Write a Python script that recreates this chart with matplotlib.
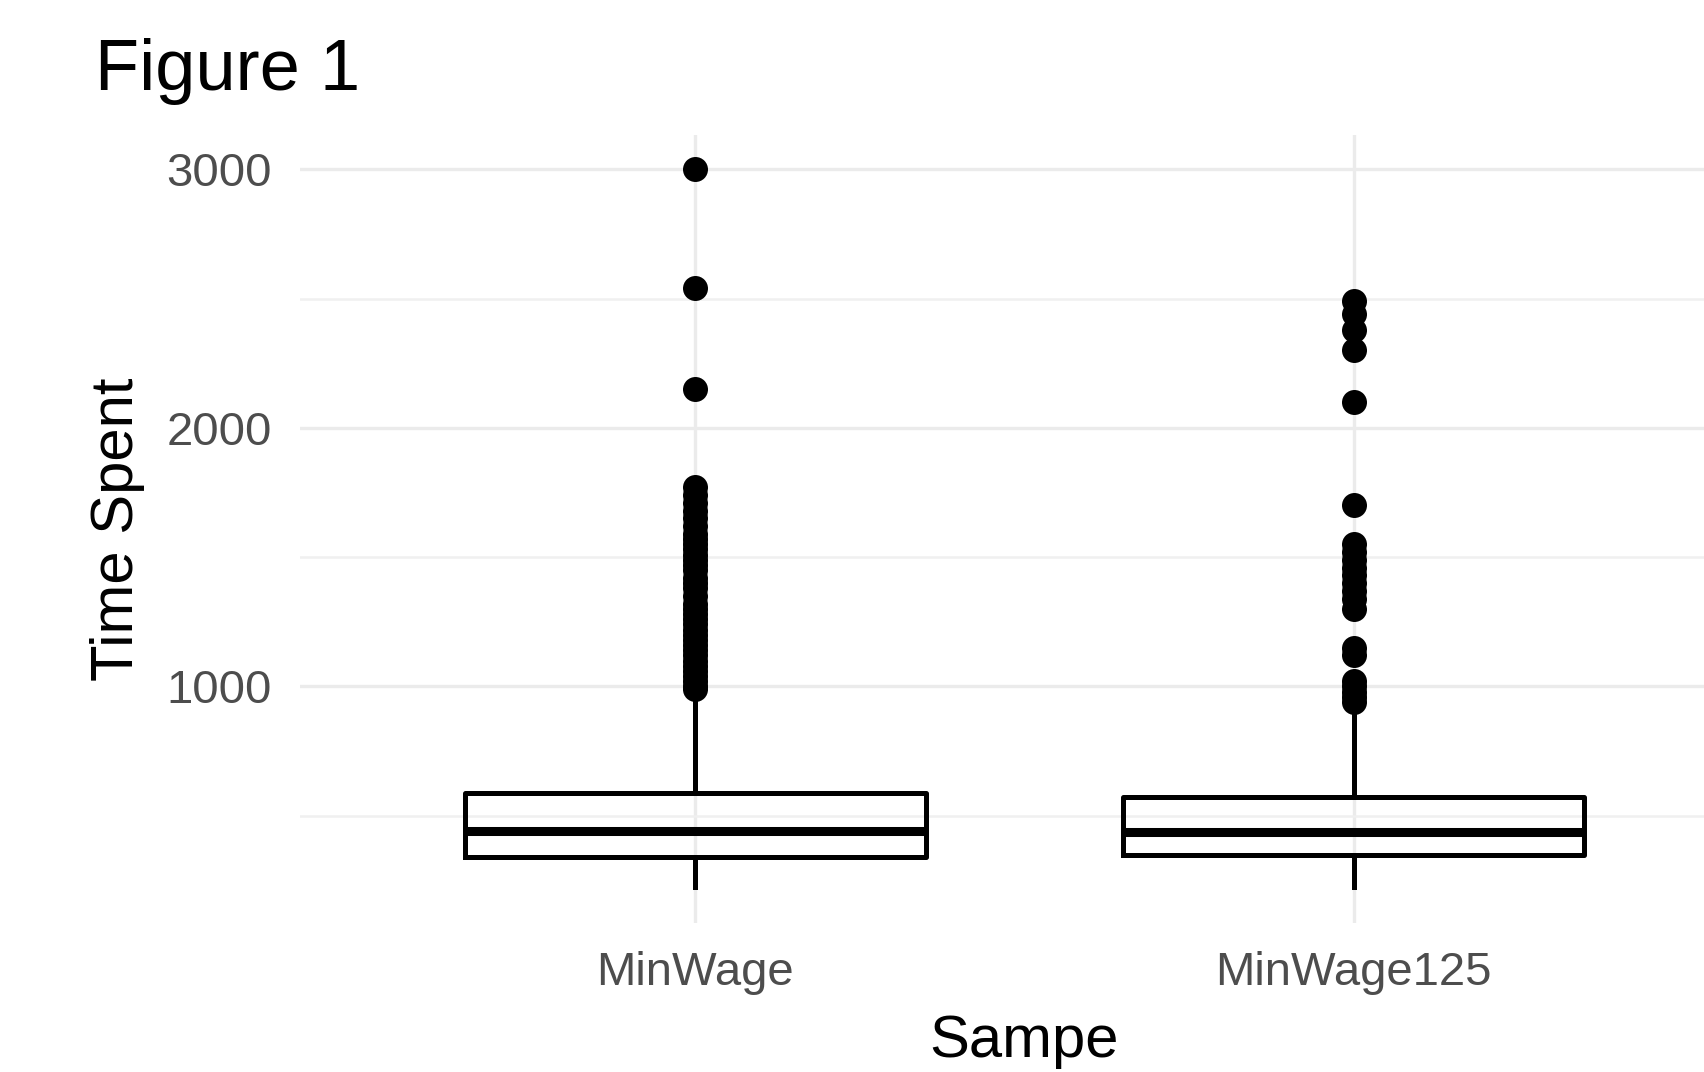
import matplotlib
matplotlib.use("Agg")
import matplotlib.pyplot as plt
from matplotlib.ticker import MultipleLocator

plt.rcParams["font.family"] = ["Liberation Sans", "DejaVu Sans"]

# Box summaries
groups = ["MinWage", "MinWage125"]
q1 = [341, 349]
median = [441, 438]
q3 = [589, 573]
whisker_low = [224, 224]
whisker_high = [960, 905]
outliers = [
    [3000, 2540, 2150, 1770, 1740, 1710, 1680, 1650, 1620, 1590, 1570, 1550,
     1530, 1510, 1490, 1470, 1450, 1420, 1400, 1380, 1350, 1320, 1300, 1280,
     1260, 1240, 1220, 1200, 1180, 1160, 1140, 1120, 1100, 1080, 1060, 1040,
     1020, 1000, 990],
    [2490, 2440, 2380, 2300, 2100, 1700, 1550, 1520, 1490, 1460, 1430, 1400,
     1370, 1340, 1300, 1150, 1120, 1020, 1000, 980, 960, 940],
]
y_ticks = [1000, 2000, 3000]

W, H = 1704, 1072
fig = plt.figure(figsize=(W / 100, H / 100), dpi=100)
ax = fig.add_axes([300 / W, 1 - 923 / H, 1449 / W, (923 - 135) / H])

stats = []
for i, name in enumerate(groups):
    stats.append(dict(label=name, q1=q1[i], med=median[i], q3=q3[i],
                      whislo=whisker_low[i], whishi=whisker_high[i],
                      fliers=outliers[i]))

ax.bxp(stats, positions=[1, 2], widths=0.7, showcaps=False,
       boxprops=dict(color="black", linewidth=3.6),
       whiskerprops=dict(color="black", linewidth=3.6),
       medianprops=dict(color="black", linewidth=6.5, solid_capstyle="butt"),
       flierprops=dict(marker="o", markerfacecolor="black", markeredgecolor="black",
                       markersize=18, markeredgewidth=0),
       zorder=3)

ax.set_xlim(0.4, 2.6)
ax.set_ylim(85, 3133)
ax.set_yticks(y_ticks)
ax.yaxis.set_minor_locator(MultipleLocator(500))
ax.set_xticks([1, 2])
ax.set_xticklabels(groups)

ax.grid(True, which="major", color="#EBEBEB", linewidth=2.4, zorder=0)
ax.grid(True, which="minor", axis="y", color="#F0F0F0", linewidth=1.8, zorder=0)
ax.set_axisbelow(True)
for s in ax.spines.values():
    s.set_visible(False)
ax.tick_params(axis="both", which="both", length=0, labelsize=34, colors="#4D4D4D")
ax.tick_params(axis="y", pad=20)
ax.tick_params(axis="x", pad=20)

fig.text(95 / W, 1 - 90 / H, "Figure 1", fontsize=52, color="black", va="baseline")
fig.text(90 / W, 1 - 529 / H, "Time Spent", fontsize=43, rotation=90,
         ha="left", va="center", color="black")
fig.text(1024 / W, 1 - 1057 / H, "Sampe", fontsize=43, ha="center",
         va="baseline", color="black")

fig.savefig("out.png", dpi=100, facecolor="white")
